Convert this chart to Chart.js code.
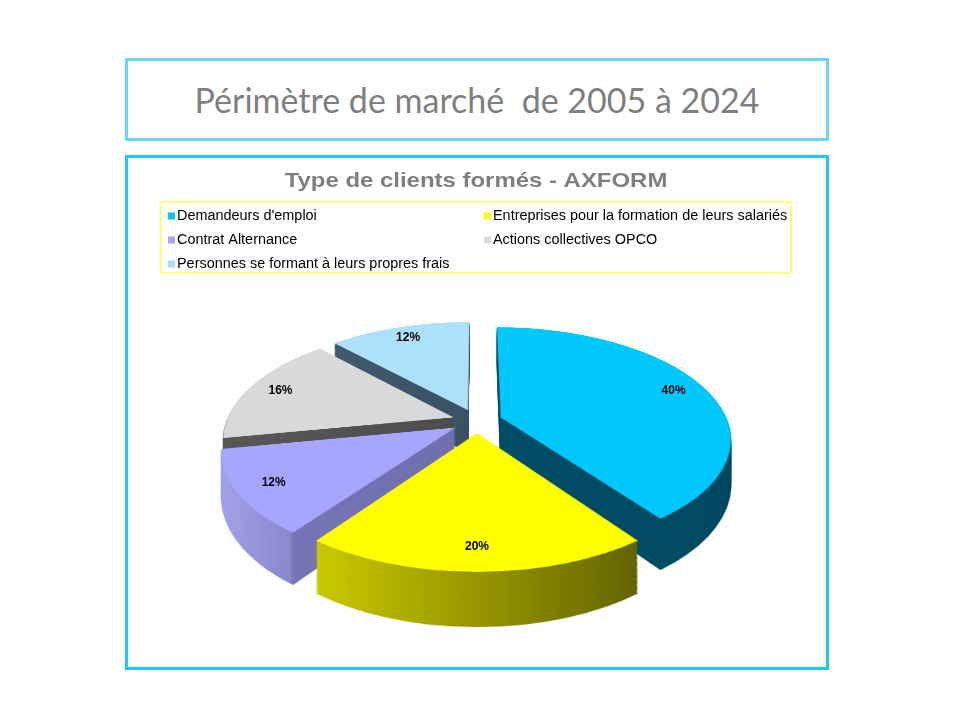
<!DOCTYPE html>
<html>
<head>
<meta charset="utf-8">
<script src="https://cdn.jsdelivr.net/npm/chart.js@4/dist/chart.umd.min.js"></script>
<style>
  html, body { margin: 0; padding: 0; background: #fff; width: 960px; height: 720px; overflow: hidden; }
  #titleBox { position: absolute; left: 125px; top: 58px; width: 704px; height: 83px; box-sizing: border-box;
    border: 3px solid #6AD6F0; display: flex; align-items: center; justify-content: center;
    font-family: Lato, "Open Sans", sans-serif; font-size: 34px; color: #7F7F7F; white-space: pre; }
  #chartBox { position: absolute; left: 125px; top: 155px; width: 704px; height: 515px; box-sizing: border-box;
    border: 3px solid #1EC8F0; }
  #c { position: absolute; left: 0; top: 0; }
</style>
</head>
<body>
<div id="titleBox">Périmètre de marché  de 2005 à 2024</div>
<div id="chartBox"></div>
<canvas id="c" width="960" height="720"></canvas>
<script>
// ---- data ----
const chartTitle = 'Type de clients formés - AXFORM';
const categories = [
  "Demandeurs d'emploi",
  "Entreprises pour la formation de leurs salariés",
  "Contrat Alternance",
  "Actions collectives OPCO",
  "Personnes se formant à leurs propres frais"
];
const values = [40, 20, 12, 16, 12];
const topColors = ['#00C8FF', '#FFFF00', '#A6A6FF', '#D9D9D9', '#ADE0FA'];

// ---- 3D look (style only) ----
const TILT = 0.476;      // vertical flattening of the pie plane
const VIEW_DIST = 1232;  // perspective viewing distance (px)
const SCREEN_CY = 421;   // screen y of the pie centre
const DEPTH = 44;        // thickness in px
const EXPLODE = 25;      // slice explosion in px
// side shading in slice-local top-view x: [x0, x1, [[stop, colour], ...]]
const SIDE_SHADES = [
  [240, 720, [[0, '#00536D'], [1, '#004A62']]],
  [345, 609, [[0, '#CACA00'], [1, '#646400']]],
  [270, 470, [[0, '#A2A2EA'], [0.35, '#8A8ACE'], [0.37, '#7676B6'], [1, '#7070B0']]],
  [220, 470, [[0, '#5A5A5A'], [1, '#4E4E4E']]],
  [330, 470, [[0, '#405C6C'], [1, '#3A5464']]]
];
const LABEL_FRACTION = 0.85;
const TITLE_STRETCH = 1.14;
const LEGEND_STRETCH = 1.03;

function explode(ctx, arc) {
  const mid = (arc.startAngle + arc.endAngle) / 2;
  ctx.translate(Math.cos(mid) * EXPLODE, Math.sin(mid) * EXPLODE);
}
function drawArcWith(ctx, arc, fill) {
  const fake = Object.create(arc);
  fake.options = Object.assign({}, arc.options, { backgroundColor: fill, borderColor: fill, borderWidth: 0 });
  Chart.ArcElement.prototype.draw.call(fake, ctx);
}
// top-view (u, v) relative to centre -> screen
function persp(v) { return VIEW_DIST / (VIEW_DIST - v); }
function screenY(v, d) { return SCREEN_CY + persp(v) * (TILT * v + d); }
// draw the flat top-view canvas src as a tilted plane, lowered by d
function project(ctx, src, acx, acy, half, d) {
  const Y0 = Math.floor(screenY(-half, d)), Y1 = Math.ceil(screenY(half, d));
  const D = VIEW_DIST, K = TILT;
  for (let Y = Y0; Y < Y1; Y++) {
    const r0 = Y - SCREEN_CY, r1 = Y + 1 - SCREEN_CY;
    let v0 = D * (r0 - d) / (D * K + r0);
    let v1 = D * (r1 - d) / (D * K + r1);
    v0 = Math.max(v0, -half); v1 = Math.min(v1, half);
    if (v1 <= v0) continue;
    const f = persp((v0 + v1) / 2);
    ctx.drawImage(src, acx - half, acy + v0, 2 * half, v1 - v0,
                  acx - half * f, Y, 2 * half * f, 1);
  }
}

const pie3d = {
  id: 'pie3d',
  beforeDatasetsDraw(chart) {
    const ctx = chart.ctx;
    const arcs = chart.getDatasetMeta(0).data;
    const acx = arcs[0].x, acy = arcs[0].y;
    const half = arcs[0].outerRadius + EXPLODE + 3;
    const W = chart.width, H = chart.height;

    const sideCv = document.createElement('canvas'); sideCv.width = W; sideCv.height = H;
    const topCv = document.createElement('canvas'); topCv.width = W; topCv.height = H;
    const sc = sideCv.getContext('2d'), tc = topCv.getContext('2d');
    arcs.forEach((arc, i) => {
      const s = SIDE_SHADES[i];
      const g = sc.createLinearGradient(s[0], 0, s[1], 0);
      s[2].forEach(st => g.addColorStop(st[0], st[1]));
      sc.save(); explode(sc, arc); drawArcWith(sc, arc, g); sc.restore();
      tc.save(); explode(tc, arc); arc.draw(tc); tc.restore();
    });
    for (let d = DEPTH; d >= 1; d--) project(ctx, sideCv, acx, acy, half, d);
    project(ctx, topCv, acx, acy, half, 0);
    return false;
  },
  afterDraw(chart) {
    const ctx = chart.ctx;
    const arcs = chart.getDatasetMeta(0).data;
    const data = chart.data.datasets[0].data;
    const total = data.reduce((a, b) => a + b, 0);
    // percentage labels
    ctx.save();
    ctx.font = 'bold 12px "Liberation Sans", Arial, sans-serif';
    ctx.fillStyle = '#000';
    ctx.textAlign = 'center';
    ctx.textBaseline = 'middle';
    arcs.forEach((arc, i) => {
      const mid = (arc.startAngle + arc.endAngle) / 2;
      const r = arc.outerRadius * LABEL_FRACTION + EXPLODE;
      const u = Math.cos(mid) * r, v = Math.sin(mid) * r;
      const x = arc.x + u * persp(v);
      const y = screenY(v, 0);
      ctx.fillText(Math.round(data[i] / total * 100) + '%', x, y);
    });
    ctx.restore();
    // chart title
    ctx.save();
    ctx.font = 'bold 21px "Liberation Sans", Arial, sans-serif';
    ctx.fillStyle = '#7F7F7F';
    ctx.textAlign = 'center';
    ctx.textBaseline = 'middle';
    ctx.translate(476, 181);
    ctx.scale(TITLE_STRETCH, 1);
    ctx.fillText(chartTitle, 0, 0);
    ctx.restore();
    // legend
    ctx.save();
    ctx.strokeStyle = '#FFFF80';
    ctx.lineWidth = 2;
    ctx.strokeRect(161, 202, 630, 71);
    ctx.font = '14px "Liberation Sans", Arial, sans-serif';
    ctx.textBaseline = 'middle';
    ctx.textAlign = 'left';
    const colX = [168, 484];
    const rowY = [216, 240, 264];
    chart.data.labels.forEach((lab, i) => {
      const x = colX[i % 2], y = rowY[Math.floor(i / 2)];
      ctx.fillStyle = chart.data.datasets[0].backgroundColor[i];
      ctx.fillRect(x, y - 3.5, 7, 7);
      ctx.fillStyle = '#000';
      ctx.save();
      ctx.translate(x + 9, y);
      ctx.scale(LEGEND_STRETCH, 1);
      ctx.fillText(lab, 0, 0);
      ctx.restore();
    });
    ctx.restore();
  }
};

new Chart(document.getElementById('c'), {
  type: 'pie',
  data: {
    labels: categories,
    datasets: [{
      data: values,
      backgroundColor: topColors,
      borderWidth: 0,
      clip: false
    }]
  },
  options: {
    responsive: false,
    animation: false,
    devicePixelRatio: 1,
    events: [],
    layout: { padding: { left: 250, right: 256, top: 200, bottom: 40 } },
    plugins: {
      legend: { display: false },
      tooltip: { enabled: false },
      title: { display: false }
    }
  },
  plugins: [pie3d]
});
</script>
</body>
</html>
